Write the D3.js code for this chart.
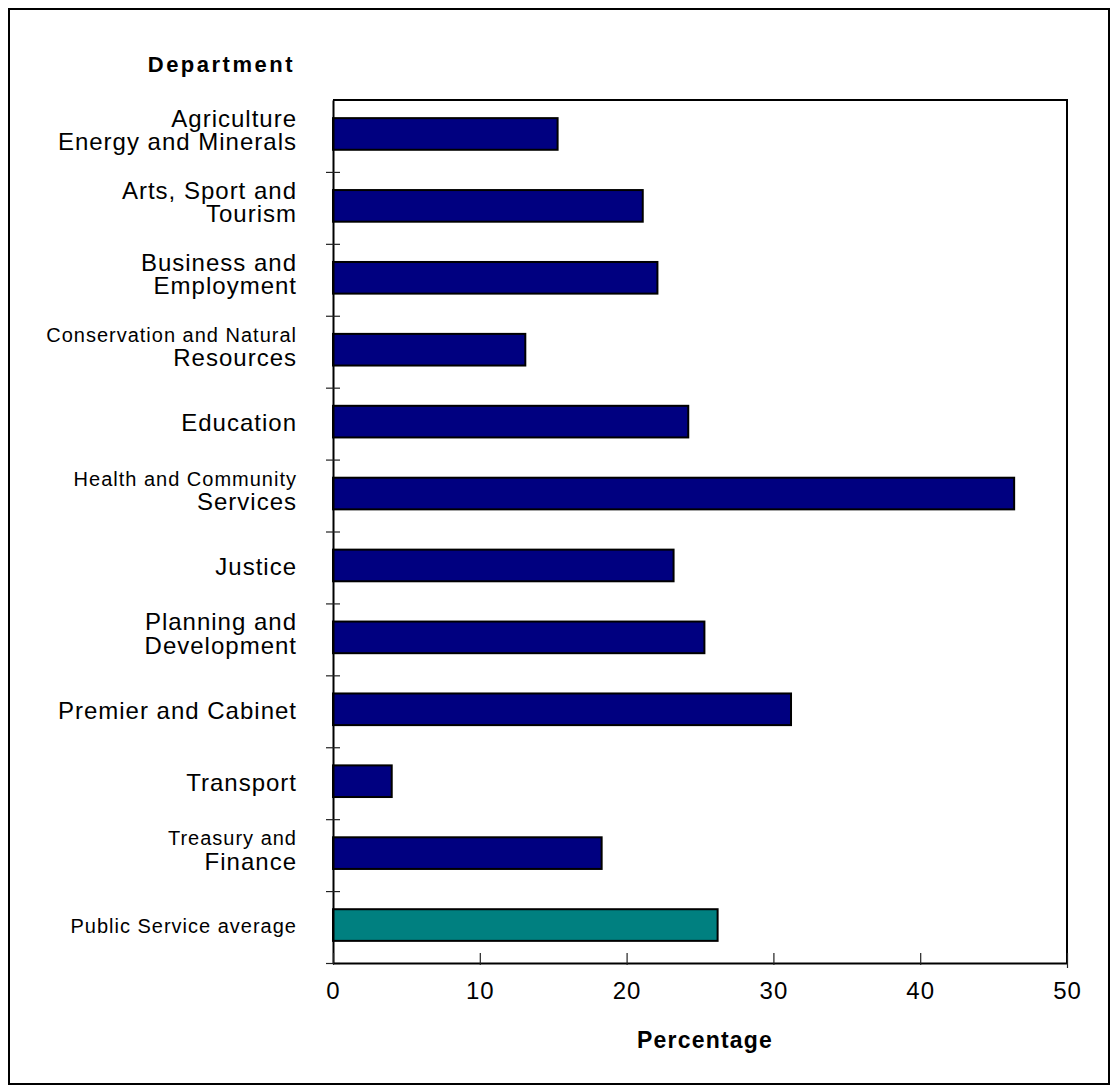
<!DOCTYPE html>
<html>
<head>
<meta charset="utf-8">
<script src="https://cdn.jsdelivr.net/npm/d3@7/dist/d3.min.js"></script>
<style>
  html, body { margin: 0; padding: 0; background: #fff; }
  svg { display: block; }
  text { font-family: "Liberation Sans", Arial, sans-serif; fill: #000; }
</style>
</head>
<body>
<svg id="chart" width="1111" height="1092"></svg>
<script>
// Departments, in display order (each label may wrap onto two lines)
const departments = [
  "Agriculture Energy and Minerals",
  "Arts, Sport and Tourism",
  "Business and Employment",
  "Conservation and Natural Resources",
  "Education",
  "Health and Community Services",
  "Justice",
  "Planning and Development",
  "Premier and Cabinet",
  "Transport",
  "Treasury and Finance",
  "Public Service average"
];
const labelLines = [
  ["Agriculture", "Energy and Minerals"],
  ["Arts, Sport and", "Tourism"],
  ["Business and", "Employment"],
  ["Conservation and Natural", "Resources"],
  ["Education"],
  ["Health and Community", "Services"],
  ["Justice"],
  ["Planning and", "Development"],
  ["Premier and Cabinet"],
  ["Transport"],
  ["Treasury and", "Finance"],
  ["Public Service average"]
];
// Percentage per department
const percentages = [15.3, 21.1, 22.1, 13.1, 24.2, 46.4, 23.2, 25.3, 31.2, 4.0, 18.3, 26.2];
const xTicks = [0, 10, 20, 30, 40, 50];
const xTitle = "Percentage";
const yTitle = "Department";

// Labels whose first line is set in a smaller type
const smallFirstLine = new Set([
  "Conservation and Natural Resources",
  "Health and Community Services",
  "Treasury and Finance",
  "Public Service average"
]);
const averageName = "Public Service average";

const svg = d3.select("#chart");
const plot = { left: 333, right: 1067, top: 100, bottom: 963 };

// Outer frame
svg.append("rect")
  .attr("x", 9).attr("y", 9).attr("width", 1100).attr("height", 1075)
  .attr("fill", "none").attr("stroke", "#000").attr("stroke-width", 2);

const x = d3.scaleLinear().domain([0, 50]).range([plot.left, plot.right]);
const y = d3.scaleBand().domain(departments)
  .range([plot.top, plot.bottom]).paddingInner(0.56).paddingOuter(0.28);
const yEdge = d3.scaleLinear().domain([0, departments.length]).range([plot.top, plot.bottom]);

// Bars
svg.append("g").selectAll("rect")
  .data(departments)
  .join("rect")
  .attr("x", x(0))
  .attr("y", d => y(d) - 2)
  .attr("width", (d, i) => x(percentages[i]) - x(0))
  .attr("height", y.bandwidth())
  .attr("fill", d => d === averageName ? "#008080" : "#000080")
  .attr("stroke", "#000")
  .attr("stroke-width", 2);

// Plot frame: top and right edges
svg.append("path")
  .attr("d", `M${plot.left},${plot.top}H${plot.right}V${plot.bottom}`)
  .attr("fill", "none").attr("stroke", "#000").attr("stroke-width", 2);

// Category axis (ticks at band edges, crossing the axis line)
const yAxis = svg.append("g")
  .attr("transform", `translate(${plot.left},0)`)
  .call(d3.axisLeft(yEdge).tickValues(d3.range(1, departments.length + 1))
    .tickSize(7).tickSizeOuter(0).tickFormat(""));
yAxis.select(".domain").attr("stroke", "#000").attr("stroke-width", 2);
yAxis.selectAll(".tick line").attr("x1", 7).attr("stroke", "#222").attr("stroke-width", 1.2);

// Value axis
const xAxis = svg.append("g")
  .attr("transform", `translate(0,${plot.bottom})`)
  .call(d3.axisBottom(x).tickValues(xTicks).tickSizeInner(-10).tickSizeOuter(0).tickPadding(0));
xAxis.select(".domain").attr("stroke", "#000").attr("stroke-width", 2);
xAxis.selectAll(".tick line").attr("y1", (d) => d === 50 ? 5 : 2).attr("stroke", "#222").attr("stroke-width", 1.2);
xAxis.selectAll(".tick text")
  .attr("y", 36).attr("dy", null)
  .style("font-size", "24px")
  .style("font-family", "\"Liberation Sans\", Arial, sans-serif")
  .style("letter-spacing", "1px")
  .attr("fill", "#000");

// Category labels
const labelX = 297;
const labels = svg.append("g").attr("text-anchor", "end");
departments.forEach((d, i) => {
  const c = y(d) + y.bandwidth() / 2;
  const lines = labelLines[i];
  const small = smallFirstLine.has(d);
  if (lines.length === 1) {
    labels.append("text")
      .attr("x", labelX).attr("y", c + (small ? 6 : 7.5))
      .style("font-size", small ? "20px" : "24px")
      .style("letter-spacing", "1px")
      .text(lines[0]);
  } else {
    labels.append("text")
      .attr("x", labelX).attr("y", c + (small ? -10 : -9))
      .style("font-size", small ? "20px" : "24px")
      .style("letter-spacing", "1px")
      .text(lines[0]);
    labels.append("text")
      .attr("x", labelX).attr("y", c + 14.5)
      .style("font-size", "24px")
      .style("letter-spacing", "1px")
      .text(lines[1]);
  }
});

// Axis titles
svg.append("text")
  .attr("x", 295).attr("y", 72)
  .attr("text-anchor", "end")
  .style("font-size", "22px").style("font-weight", "bold").style("letter-spacing", "2.5px")
  .text(yTitle);

svg.append("text")
  .attr("x", 705).attr("y", 1048)
  .attr("text-anchor", "middle")
  .style("font-size", "23px").style("font-weight", "bold").style("letter-spacing", "1.2px")
  .text(xTitle);
</script>
</body>
</html>
